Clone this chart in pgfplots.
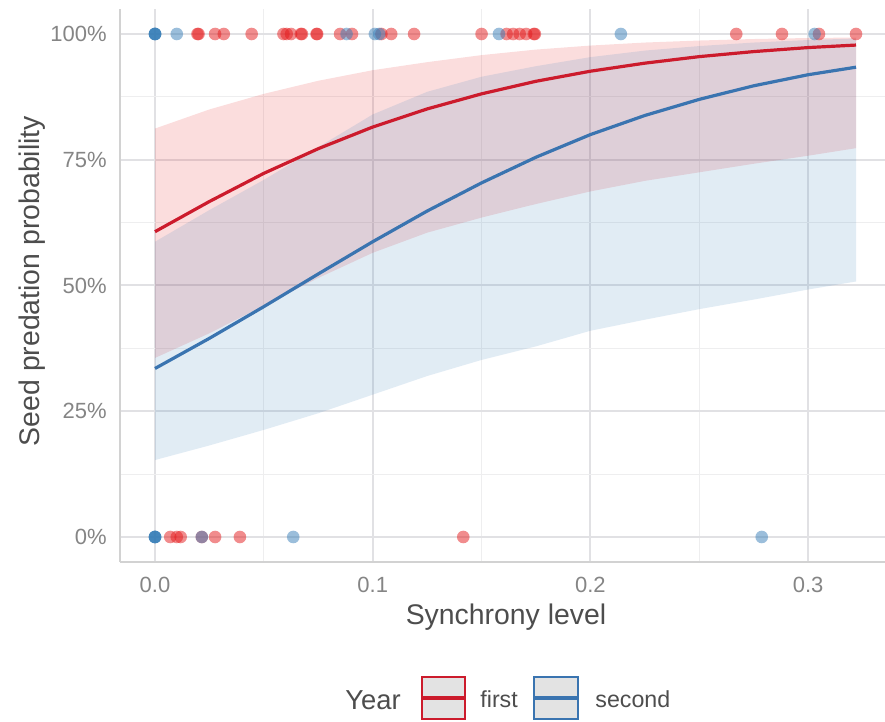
\documentclass[border=0pt]{standalone}
\usepackage{pgfplots}
\pgfplotsset{compat=1.18}
\usepackage{pgfplotstable}
\usepgfplotslibrary{fillbetween}
\usepackage{fontspec}
\setmainfont{Liberation Sans}

\definecolor{firstred}{HTML}{E41A1C}
\definecolor{secondblue}{HTML}{377EB8}
\definecolor{firstline}{HTML}{CC1B2C}
\definecolor{secondline}{HTML}{3A74B0}
\definecolor{gridmaj}{HTML}{E1E1E4}
\definecolor{gridmin}{HTML}{EEEEEF}
\definecolor{axline}{HTML}{D2D2D2}
\definecolor{ticktext}{HTML}{858585}
\definecolor{titletext}{HTML}{4D4D4D}
\definecolor{keyfill}{HTML}{E3E3E3}

% fitted probability (%) with confidence band, by year
\pgfplotstableread{
x      fit1 lo1  hi1  fit2 lo2  hi2
0.000  60.7 35.6 81.2 33.5 15.3 58.7
0.025  66.7 40.5 85.0 39.5 18.2 65.0
0.050  72.3 46.0 88.1 45.8 21.3 71.0
0.075  77.2 51.5 90.7 52.3 24.6 77.5
0.100  81.5 56.5 92.8 58.7 28.3 84.0
0.125  85.1 60.5 94.4 64.8 32.0 88.5
0.150  88.1 63.5 95.8 70.4 35.2 91.5
0.175  90.6 66.2 96.9 75.5 37.9 93.6
0.200  92.6 68.7 97.7 80.0 41.0 95.4
0.225  94.2 70.8 98.3 83.8 43.2 96.7
0.250  95.5 72.5 98.7 87.0 45.3 97.6
0.275  96.5 74.2 99.0 89.7 47.2 98.3
0.300  97.3 75.8 99.2 91.9 49.2 98.8
0.322  97.8 77.3 99.3 93.4 50.8 99.1
}\curves

% observed outcomes, first year
\pgfplotstableread{
x      y
0.0195 100
0.0200 100
0.0276 100
0.0316 100
0.0444 100
0.0590 100
0.0605 100
0.0625 100
0.0670 100
0.0675 100
0.0742 100
0.0745 100
0.0850 100
0.0905 100
0.1040 100
0.1085 100
0.1190 100
0.1500 100
0.1615 100
0.1645 100
0.1675 100
0.1705 100
0.1740 100
0.1745 100
0.2670 100
0.2880 100
0.3050 100
0.3220 100
0.0070 0
0.0100 0
0.0118 0
0.0215 0
0.0276 0
0.0390 0
0.1416 0
}\firstpts

% observed outcomes, second year
\pgfplotstableread{
x      y
0.0000 100
0.0000 100
0.0000 100
0.0000 100
0.0100 100
0.0880 100
0.1010 100
0.1030 100
0.1580 100
0.2140 100
0.3030 100
0.0000 0
0.0000 0
0.0000 0
0.0000 0
0.0215 0
0.0635 0
0.2787 0
}\secondpts

\begin{document}
\begin{tikzpicture}
\begin{axis}[
  scale only axis, width=382.5pt, height=276.5pt,
  xmin=-0.01608, xmax=0.33532, ymin=-4.97, ymax=104.97,
  xtick={0,0.1,0.2,0.3}, xticklabels={0.0,0.1,0.2,0.3},
  ytick={0,25,50,75,100}, yticklabels={0\%,25\%,50\%,75\%,100\%},
  minor xtick={0.05,0.15,0.25}, minor ytick={12.5,37.5,62.5,87.5},
  grid=both,
  major grid style={gridmaj, line width=1pt},
  minor grid style={gridmin, line width=0.6pt},
  axis lines=left, axis line style={-, axline, line width=0.9pt},
  major tick length=0pt, minor tick length=0pt,
  tick label style={font=\fontsize{11}{13}\selectfont, text=ticktext},
  xticklabel style={anchor=base, yshift=-15.5pt},
  yticklabel style={anchor=east, inner sep=0pt, xshift=-6.5pt},
  xlabel={Synchrony level}, ylabel={Seed predation probability},
  label style={font=\fontsize{14.2}{16}\selectfont, text=titletext},
  xlabel style={at={(axis description cs:0.5046,-0.1139)}, anchor=base},
  ylabel style={at={(axis description cs:-0.1046,0.508)}, anchor=base},
]
  % fitted curves
  \addplot[firstline, line width=1.6pt, no marks] table[x=x, y=fit1]{\curves};
  \addplot[secondline, line width=1.6pt, no marks] table[x=x, y=fit2]{\curves};

  % confidence bands
  \addplot[name path=hiA, draw=none, no marks, forget plot] table[x=x, y=hi1]{\curves};
  \addplot[name path=loA, draw=none, no marks, forget plot] table[x=x, y=lo1]{\curves};
  \addplot[firstred, fill opacity=0.15, draw=none] fill between[of=hiA and loA];
  \addplot[name path=hiB, draw=none, no marks, forget plot] table[x=x, y=hi2]{\curves};
  \addplot[name path=loB, draw=none, no marks, forget plot] table[x=x, y=lo2]{\curves};
  \addplot[secondblue, fill opacity=0.15, draw=none] fill between[of=hiB and loB];

  % observations
  \addplot[firstred, only marks, mark=*, mark size=3.15pt,
    mark options={fill=firstred, fill opacity=0.5, draw opacity=0}] table[x=x, y=y]{\firstpts};
  \addplot[secondblue, only marks, mark=*, mark size=3.15pt,
    mark options={fill=secondblue, fill opacity=0.5, draw opacity=0}] table[x=x, y=y]{\secondpts};
\end{axis}

% legend below the panel
\begin{scope}[shift={(current axis.south west)}, x=0.5pt, y=-0.5pt]
  \node[anchor=base west, inner sep=0pt, text=titletext,
        font=\fontsize{13.7}{16}\selectfont] at (225,148) {Year};
  \draw[firstline, line width=0.9pt, fill=keyfill] (302,115) rectangle (345,157);
  \draw[firstline, line width=1.6pt] (303,136) -- (344,136);
  \node[anchor=base west, inner sep=0pt, text=titletext,
        font=\fontsize{11.6}{14}\selectfont] at (360,146) {first};
  \draw[secondline, line width=0.9pt, fill=keyfill] (414,115) rectangle (458,157);
  \draw[secondline, line width=1.6pt] (415,136) -- (457,136);
  \node[anchor=base west, inner sep=0pt, text=titletext,
        font=\fontsize{11.6}{14}\selectfont] at (475,146) {second};
  \pgfresetboundingbox
  \path[use as bounding box] (-120,-562) rectangle (765,160);
\end{scope}
\end{tikzpicture}
\end{document}
